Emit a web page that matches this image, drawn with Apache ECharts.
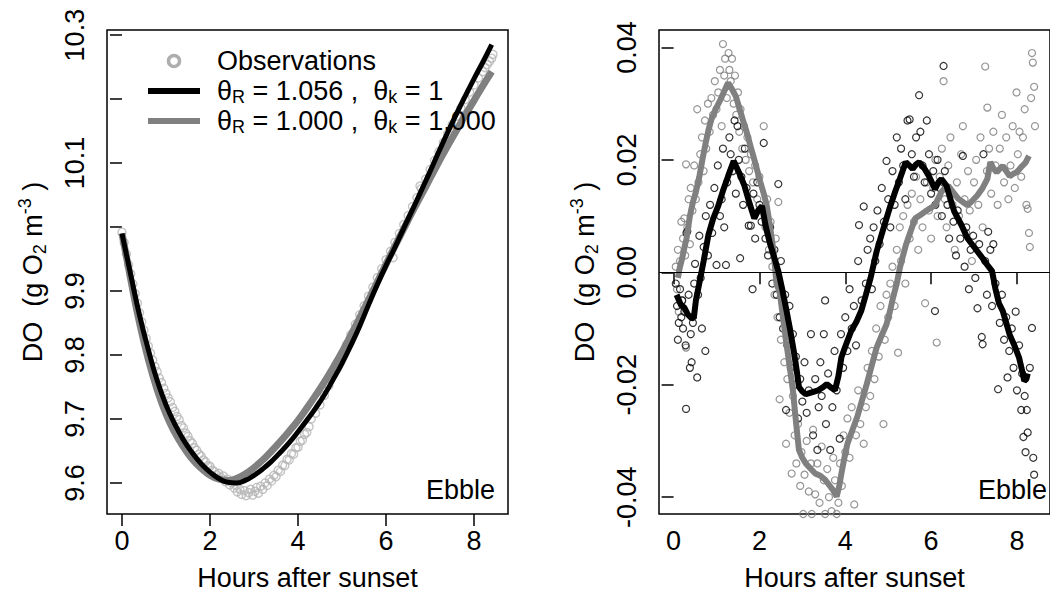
<!DOCTYPE html>
<html>
<head>
<meta charset="utf-8">
<script src="https://cdn.jsdelivr.net/npm/echarts@6.0.0/dist/echarts.min.js"></script>
<style>
html,body{margin:0;padding:0;background:#fff;}
#chart{width:1050px;height:596px;}
</style>
</head>
<body>
<div id="chart"></div>
<script>
// ---------- Data ----------
const xTicks = [0, 2, 4, 6, 8];
const leftYTicks = [9.6, 9.7, 9.8, 9.9, 10.0, 10.1, 10.2, 10.3];
const leftYLabels = [9.6, 9.7, 9.8, 9.9, 10.1, 10.3];
const rightYTicks = [-0.04, -0.02, 0, 0.02, 0.04];

const legendNames = ['Observations', 'θR = 1.056 ,  θk = 1', 'θR = 1.000 ,  θk = 1.000'];

// Left panel: observed DO (hours, g O2 m-3)
const observations = [
[0.00,9.992],[0.05,9.976],[0.10,9.958],[0.15,9.941],[0.20,9.927],[0.25,9.911],[0.30,9.896],[0.35,9.881],[0.40,9.866],[0.45,9.852],
[0.50,9.839],[0.55,9.826],[0.60,9.814],[0.65,9.803],[0.70,9.792],[0.75,9.782],[0.80,9.774],[0.85,9.764],[0.90,9.757],[0.95,9.748],
[1.00,9.740],[1.05,9.733],[1.10,9.727],[1.15,9.718],[1.20,9.712],[1.25,9.704],[1.30,9.699],[1.35,9.690],[1.40,9.686],[1.45,9.678],
[1.50,9.673],[1.55,9.666],[1.60,9.662],[1.65,9.655],[1.70,9.651],[1.75,9.645],[1.80,9.642],[1.85,9.636],[1.90,9.633],[1.95,9.627],
[2.00,9.626],[2.05,9.620],[2.10,9.618],[2.15,9.613],[2.20,9.615],[2.25,9.608],[2.30,9.611],[2.35,9.602],[2.40,9.606],[2.45,9.597],
[2.50,9.600],[2.55,9.592],[2.60,9.596],[2.62,9.586],[2.68,9.590],[2.72,9.582],[2.78,9.588],[2.82,9.580],[2.88,9.585],[2.92,9.590],
[2.97,9.581],[3.02,9.587],[3.06,9.593],[3.10,9.584],[3.15,9.595],[3.20,9.590],[3.25,9.600],[3.30,9.596],[3.35,9.606],[3.40,9.603],
[3.45,9.612],[3.50,9.610],[3.55,9.620],[3.60,9.618],[3.65,9.628],[3.70,9.627],[3.75,9.637],[3.80,9.636],[3.85,9.646],[3.90,9.645],
[3.95,9.655],[4.00,9.656],[4.05,9.665],[4.10,9.667],[4.15,9.676],[4.20,9.679],[4.25,9.688],[4.30,9.700],[4.40,9.709],[4.50,9.722],
[4.60,9.737],[4.70,9.752],[4.80,9.770],[4.90,9.786],[5.00,9.801],[5.10,9.816],[5.20,9.832],[5.30,9.848],[5.40,9.863],[5.50,9.877],
[5.60,9.892],[5.70,9.906],[5.80,9.921],[5.90,9.935],[6.00,9.949],[6.10,9.962],[6.16,9.952],[6.20,9.976],[6.30,9.990],[6.40,10.004],
[6.50,10.018],[6.60,10.032],[6.70,10.046],[6.77,10.064],[6.80,10.060],[6.90,10.075],[7.00,10.090],[7.10,10.104],[7.20,10.118],[7.30,10.132],
[7.40,10.146],[7.50,10.160],[7.60,10.173],[7.70,10.186],[7.80,10.199],[7.90,10.211],[8.00,10.222],[8.10,10.233],[8.20,10.243],[8.25,10.249],
[8.30,10.254],[8.35,10.259],[8.40,10.264],[8.43,10.270]
];

// Left panel: model with thetaR = 1.056, thetak = 1 (black)
const modelBlack = [
[0.0,9.990],[0.2,9.925],[0.4,9.862],[0.6,9.808],[0.8,9.760],[1.0,9.722],[1.2,9.692],[1.4,9.667],[1.6,9.647],[1.8,9.630],
[2.0,9.617],[2.2,9.607],[2.4,9.601],[2.6,9.600],[2.8,9.604],[3.0,9.612],[3.2,9.622],[3.4,9.634],[3.6,9.648],[3.8,9.663],
[4.0,9.680],[4.2,9.698],[4.4,9.717],[4.6,9.738],[4.8,9.762],[5.0,9.787],[5.2,9.815],[5.4,9.845],[5.6,9.878],[5.8,9.910],
[6.0,9.940],[6.2,9.968],[6.4,9.998],[6.6,10.027],[6.8,10.057],[7.0,10.087],[7.2,10.118],[7.4,10.148],[7.6,10.177],[7.8,10.205],
[8.0,10.232],[8.2,10.258],[8.4,10.285]
];

// Left panel: model with thetaR = 1.000, thetak = 1.000 (grey)
const modelGrey = [
[0.0,9.990],[0.2,9.918],[0.4,9.850],[0.6,9.793],[0.8,9.746],[1.0,9.708],[1.2,9.679],[1.4,9.656],[1.6,9.637],[1.8,9.623],
[2.0,9.612],[2.2,9.606],[2.4,9.604],[2.6,9.607],[2.8,9.614],[3.0,9.624],[3.2,9.636],[3.4,9.650],[3.6,9.665],[3.8,9.681],
[4.0,9.698],[4.2,9.717],[4.4,9.737],[4.6,9.758],[4.8,9.781],[5.0,9.805],[5.2,9.831],[5.4,9.858],[5.6,9.886],[5.8,9.914],
[6.0,9.942],[6.2,9.970],[6.4,9.997],[6.6,10.024],[6.8,10.050],[7.0,10.076],[7.2,10.102],[7.4,10.127],[7.6,10.151],[7.8,10.175],
[8.0,10.198],[8.2,10.221],[8.4,10.243]
];

// Right panel: residuals, black model
const residBlack = [
[0.05,-0.002],[0.08,-0.006],[0.10,-0.012],[0.12,-0.009],[0.15,-0.003],[0.18,-0.008],[0.20,-0.005],[0.22,-0.010],[0.25,-0.007],[0.28,-0.013],
[0.29,-0.0243],[0.30,0.007],[0.32,0.0073],[0.35,-0.004],[0.38,-0.017],[0.40,-0.011],[0.42,-0.016],[0.45,-0.009],[0.48,-0.002],[0.50,0.0015],
[0.55,-0.0187],[0.57,-0.004],[0.60,0.0065],[0.63,-0.001],[0.66,-0.010],[0.70,0.0045],[0.74,-0.014],[0.75,0.010],[0.80,0.003],[0.85,0.012],
[0.90,0.007],[0.95,0.015],[1.00,0.0013],[1.03,0.019],[1.08,0.010],[1.12,0.013],[1.15,0.022],[1.18,0.008],[1.22,0.0013],[1.25,0.016],
[1.30,0.024],[1.33,0.021],[1.38,0.018],[1.42,0.027],[1.45,0.014],[1.49,0.026],[1.52,0.020],[1.55,0.0025],[1.58,0.017],[1.62,0.012],
[1.66,0.022],[1.70,0.015],[1.75,0.0083],[1.80,0.0083],[1.84,-0.003],[1.86,0.014],[1.90,0.006],[1.95,0.016],[2.00,0.012],[2.05,0.009],
[2.10,0.023],[2.14,0.006],[2.20,0.003],[2.25,0.008],[2.30,-0.002],[2.35,0.004],[2.40,-0.004],[2.44,0.0157],[2.47,-0.008],[2.50,0.002],
[2.55,-0.010],[2.60,-0.004],[2.62,-0.0245],[2.65,-0.013],[2.70,-0.006],[2.73,-0.017],[2.78,-0.011],[2.82,-0.020],[2.85,-0.015],[2.90,-0.026],
[2.95,-0.019],[3.00,-0.023],[3.05,-0.016],[3.10,-0.025],[3.15,-0.021],[3.20,-0.011],[3.25,-0.029],[3.30,-0.019],[3.35,-0.0316],[3.38,-0.024],
[3.42,-0.016],[3.45,-0.022],[3.50,-0.011],[3.53,-0.005],[3.55,-0.027],[3.60,-0.018],[3.65,-0.0316],[3.70,-0.024],[3.75,-0.014],[3.80,-0.021],
[3.87,-0.0296],[3.90,-0.011],[3.95,-0.017],[4.00,-0.008],[4.05,-0.014],[4.10,-0.003],[4.15,-0.010],[4.20,-0.006],[4.25,-0.013],[4.30,0.002],
[4.32,0.0084],[4.38,-0.005],[4.43,0.0117],[4.48,-0.002],[4.52,0.004],[4.58,0.006],[4.62,-0.003],[4.66,0.008],[4.70,0.002],[4.75,0.011],
[4.80,0.005],[4.85,0.015],[4.90,0.009],[4.96,0.0198],[5.00,0.013],[5.05,0.008],[5.10,0.018],[5.15,0.012],[5.20,0.024],[5.25,0.016],
[5.30,0.022],[5.35,0.019],[5.40,0.013],[5.45,0.027],[5.50,0.0272],[5.55,0.021],[5.60,0.017],[5.65,0.024],[5.72,0.0315],[5.75,0.025],
[5.80,0.019],[5.85,0.016],[5.90,0.027],[5.95,0.021],[6.00,0.014],[6.05,0.018],[6.09,-0.0069],[6.10,0.012],[6.15,0.020],[6.20,0.015],
[6.25,0.010],[6.29,0.0367],[6.32,0.018],[6.38,0.012],[6.42,0.006],[6.48,0.014],[6.52,0.009],[6.58,0.003],[6.62,0.011],[6.68,0.006],
[6.74,0.0207],[6.78,0.001],[6.82,0.008],[6.88,-0.003],[6.92,0.004],[6.98,0.0065],[7.03,-0.001],[7.08,-0.0064],[7.12,0.005],[7.18,-0.0115],
[7.20,-0.0128],[7.22,0.021],[7.26,0.002],[7.30,-0.004],[7.33,0.0072],[7.38,0.004],[7.42,-0.006],[7.45,0.005],[7.50,-0.002],[7.56,-0.0208],
[7.60,-0.009],[7.65,-0.004],[7.70,-0.012],[7.75,-0.008],[7.78,-0.0187],[7.82,-0.014],[7.88,-0.010],[7.92,-0.017],[7.97,-0.007],[8.00,-0.021],
[8.05,-0.013],[8.10,-0.0245],[8.12,-0.018],[8.15,-0.0293],[8.18,-0.022],[8.20,-0.032],[8.23,-0.0245],[8.25,-0.0285],[8.30,-0.017],[8.35,-0.0099],
[8.38,-0.033],[8.40,-0.036]
];

// Right panel: residuals, grey model
const residGrey = [
[0.05,0.001],[0.08,-0.003],[0.10,0.004],[0.12,-0.007],[0.15,0.002],[0.18,0.009],[0.20,-0.005],[0.22,0.006],[0.25,0.0096],[0.27,0.003],
[0.29,0.0192],[0.29,-0.0134],[0.32,0.008],[0.35,0.013],[0.38,0.005],[0.40,0.015],[0.44,0.011],[0.48,0.019],[0.52,0.013],[0.55,0.029],
[0.58,0.016],[0.62,0.021],[0.66,0.024],[0.70,0.018],[0.73,0.027],[0.76,0.022],[0.80,0.030],[0.84,0.025],[0.88,0.031],[0.92,0.028],
[0.96,0.034],[1.00,0.029],[1.04,0.032],[1.08,0.036],[1.12,0.026],[1.15,0.0406],[1.18,0.035],[1.20,0.038],[1.24,0.031],[1.28,0.039],
[1.30,0.036],[1.33,0.034],[1.36,0.038],[1.40,0.030],[1.43,0.035],[1.46,0.028],[1.50,0.032],[1.53,0.025],[1.56,0.029],[1.60,0.022],
[1.64,0.026],[1.68,0.020],[1.72,0.024],[1.76,0.018],[1.80,0.021],[1.85,0.016],[1.90,0.019],[1.95,0.013],[2.00,0.017],[2.05,0.011],
[2.10,0.026],[2.14,0.008],[2.18,0.013],[2.22,0.004],[2.26,0.009],[2.30,0.001],[2.35,-0.004],[2.38,0.006],[2.42,-0.008],[2.44,0.0125],
[2.47,-0.0226],[2.50,-0.012],[2.55,-0.006],[2.58,-0.016],[2.62,-0.0305],[2.65,-0.019],[2.70,-0.025],[2.75,-0.0358],[2.78,-0.022],[2.82,-0.029],
[2.86,-0.034],[2.90,-0.027],[2.95,-0.038],[2.98,-0.032],[3.02,-0.043],[3.05,-0.036],[3.10,-0.030],[3.15,-0.039],[3.20,-0.034],[3.22,-0.043],
[3.25,-0.028],[3.30,-0.0395],[3.35,-0.034],[3.40,-0.041],[3.45,-0.031],[3.50,-0.037],[3.53,-0.043],[3.58,-0.035],[3.62,-0.040],[3.68,-0.0425],
[3.72,-0.033],[3.76,-0.037],[3.80,-0.043],[3.84,-0.041],[3.88,-0.034],[3.92,-0.038],[3.96,-0.029],[4.00,-0.032],[4.05,-0.026],[4.10,-0.033],
[4.15,-0.024],[4.21,-0.0413],[4.25,-0.029],[4.30,-0.021],[4.35,-0.027],[4.43,-0.0305],[4.48,-0.024],[4.52,-0.017],[4.58,-0.022],[4.62,-0.014],
[4.68,-0.019],[4.72,-0.010],[4.78,-0.015],[4.82,-0.006],[4.89,-0.027],[4.92,-0.012],[4.96,-0.004],[5.00,-0.008],[5.05,-0.002],[5.10,0.001],
[5.15,-0.006],[5.20,0.004],[5.23,-0.0143],[5.27,0.008],[5.30,0.002],[5.35,0.010],[5.40,-0.002],[5.45,0.012],[5.50,0.006],[5.55,0.014],
[5.60,0.009],[5.65,0.017],[5.70,0.004],[5.75,0.013],[5.80,0.008],[5.86,-0.0055],[5.90,0.016],[5.95,0.011],[6.00,0.006],[6.05,0.015],
[6.10,0.020],[6.13,-0.0125],[6.15,0.010],[6.20,0.017],[6.25,0.022],[6.29,0.034],[6.32,0.013],[6.36,0.008],[6.40,0.019],[6.45,0.024],
[6.50,0.012],[6.55,0.004],[6.60,0.016],[6.65,0.010],[6.70,0.021],[6.74,0.026],[6.78,0.013],[6.82,0.007],[6.86,0.018],[6.90,0.011],
[6.95,0.002],[7.00,0.016],[7.05,0.020],[7.10,0.012],[7.15,0.024],[7.20,0.008],[7.26,0.0366],[7.30,0.018],[7.31,0.0293],[7.35,0.022],
[7.40,0.014],[7.45,0.025],[7.50,0.019],[7.55,0.012],[7.60,0.022],[7.65,0.028],[7.70,0.016],[7.75,0.024],[7.80,0.013],[7.85,0.019],
[7.90,0.026],[7.95,0.015],[7.99,0.032],[8.02,0.021],[8.06,0.025],[8.10,0.017],[8.14,0.024],[8.18,0.029],[8.22,0.012],[8.25,0.0113],
[8.28,0.007],[8.30,0.0045],[8.33,0.031],[8.35,0.039],[8.37,0.0373],[8.40,0.033],[8.42,0.026]
];

// Right panel: running means of residuals
const runBlack = [
[0.07,-0.0040],[0.17,-0.0058],[0.25,-0.0063],[0.33,-0.0075],[0.41,-0.0081],[0.47,-0.0082],[0.52,-0.0050],[0.59,-0.0023],[0.70,0.0020],[0.81,0.0066],
[0.92,0.0095],[1.04,0.0118],[1.15,0.0145],[1.27,0.0171],[1.40,0.0198],[1.52,0.0178],[1.65,0.0154],[1.76,0.0125],[1.88,0.0096],[1.97,0.0110],
[2.06,0.0118],[2.15,0.0080],[2.25,0.0050],[2.35,0.0025],[2.44,0.0002],[2.53,-0.0030],[2.62,-0.0064],[2.71,-0.0100],[2.80,-0.0140],[2.87,-0.0175],
[2.92,-0.0204],[3.00,-0.0212],[3.08,-0.0217],[3.20,-0.0214],[3.37,-0.0210],[3.47,-0.0205],[3.57,-0.0199],[3.67,-0.0205],[3.76,-0.0210],[3.84,-0.0185],
[3.91,-0.0151],[4.02,-0.0128],[4.14,-0.0104],[4.26,-0.0088],[4.37,-0.0069],[4.48,-0.0040],[4.59,-0.0010],[4.73,0.0037],[4.89,0.0078],[5.05,0.0118],
[5.17,0.0145],[5.27,0.0166],[5.41,0.0196],[5.49,0.0190],[5.57,0.0184],[5.65,0.0192],[5.72,0.0196],[5.84,0.0185],[5.95,0.0171],[6.09,0.0148],
[6.17,0.0160],[6.24,0.0166],[6.36,0.0154],[6.45,0.0130],[6.54,0.0108],[6.70,0.0085],[6.85,0.0060],[6.97,0.0048],[7.08,0.0037],[7.20,0.0025],
[7.31,0.0013],[7.42,0.0002],[7.50,-0.0030],[7.58,-0.0055],[7.67,-0.0069],[7.75,-0.0090],[7.83,-0.0111],[7.94,-0.0130],[8.05,-0.0152],[8.12,-0.0175],
[8.17,-0.0193],[8.22,-0.0190],[8.25,-0.0180]
];
const runGrey = [
[0.10,-0.0010],[0.14,0.0007],[0.20,0.0025],[0.25,0.0043],[0.30,0.0060],[0.38,0.0100],[0.45,0.0125],[0.52,0.0143],[0.60,0.0170],[0.67,0.0200],
[0.75,0.0231],[0.81,0.0252],[0.88,0.0272],[0.98,0.0290],[1.09,0.0307],[1.18,0.0322],[1.27,0.0337],[1.36,0.0326],[1.45,0.0313],[1.53,0.0293],
[1.61,0.0272],[1.70,0.0250],[1.79,0.0225],[1.90,0.0195],[2.02,0.0161],[2.10,0.0140],[2.17,0.0119],[2.25,0.0080],[2.33,0.0037],[2.40,-0.0022],
[2.47,-0.0034],[2.55,-0.0080],[2.62,-0.0122],[2.70,-0.0165],[2.78,-0.0210],[2.85,-0.0265],[2.92,-0.0316],[3.00,-0.0330],[3.08,-0.0340],[3.20,-0.0350],
[3.30,-0.0358],[3.42,-0.0362],[3.53,-0.0369],[3.62,-0.0378],[3.71,-0.0387],[3.80,-0.0399],[3.86,-0.0380],[3.91,-0.0358],[3.98,-0.0330],[4.05,-0.0305],
[4.16,-0.0282],[4.28,-0.0257],[4.39,-0.0228],[4.50,-0.0199],[4.62,-0.0165],[4.73,-0.0134],[4.85,-0.0112],[4.96,-0.0093],[5.04,-0.0070],[5.11,-0.0046],
[5.20,-0.0020],[5.27,0.0007],[5.34,0.0028],[5.41,0.0048],[5.52,0.0072],[5.63,0.0096],[5.75,0.0102],[5.86,0.0108],[5.98,0.0114],[6.09,0.0119],
[6.17,0.0132],[6.24,0.0143],[6.32,0.0150],[6.40,0.0154],[6.52,0.0142],[6.63,0.0131],[6.74,0.0125],[6.85,0.0119],[6.97,0.0128],[7.08,0.0137],
[7.20,0.0150],[7.31,0.0166],[7.38,0.0196],[7.45,0.0185],[7.53,0.0178],[7.60,0.0184],[7.67,0.0189],[7.75,0.0180],[7.83,0.0171],[7.91,0.0175],
[7.99,0.0178],[8.05,0.0183],[8.12,0.0189],[8.20,0.0195],[8.28,0.0207]
];

// ---------- Chart ----------
const FONT = "'Liberation Sans', Arial, Helvetica, sans-serif";
const FS = 27;
const chart = echarts.init(document.getElementById('chart'), null, {renderer: 'svg'});

const nameRich = {
  sub: {fontSize: 18, lineHeight: 18, verticalAlign: 'bottom', fontFamily: FONT, color: '#000'},
  sup: {fontSize: 18, lineHeight: 18, verticalAlign: 'top', fontFamily: FONT, color: '#000'}
};
const yName = 'DO  (g O{sub|2} m{sup|-3} )';

function xAxisCfg(gi) {
  return {
    type: 'value', gridIndex: gi, min: -0.34, max: 8.77,
    name: 'Hours after sunset', nameLocation: 'middle', nameGap: 50,
    nameTextStyle: {fontSize: FS, fontFamily: FONT, color: '#000'},
    axisLine: {show: false},
    axisTick: {show: true, length: 12, customValues: xTicks, lineStyle: {color: '#000', width: 1.5}},
    axisLabel: {customValues: xTicks, fontSize: FS, fontFamily: FONT, color: '#000', margin: 13},
    splitLine: {show: false}
  };
}
function yAxisCfg(gi, min, max, ticks, labels, digits) {
  return {
    type: 'value', gridIndex: gi, min: min, max: max,
    name: yName, nameLocation: 'middle', nameGap: 58, nameRotate: 90,
    nameTextStyle: {fontSize: FS, fontFamily: FONT, color: '#000', lineHeight: 33, rich: nameRich},
    axisLine: {show: false},
    axisTick: {show: true, length: 12, customValues: ticks, lineStyle: {color: '#000', width: 1.5}},
    axisLabel: {customValues: labels, rotate: 90, fontSize: FS, fontFamily: FONT, color: '#000', margin: 19,
      formatter: v => Number(v).toFixed(digits)},
    splitLine: {show: false}
  };
}

const legendRich = {
  sp: {width: 12, fontSize: FS, lineHeight: 30},
  s: {fontSize: 18, lineHeight: 18, verticalAlign: 'bottom', fontFamily: FONT, color: '#000'}
};
function legendFmt(name) {
  if (name === legendNames[0]) return '{sp| }' + name;
  const m = name.match(/θR = ([\d.]+) ,  θk = ([\d.]+)/);
  return '{sp| }θ{s|R} = ' + m[1] + ' ,  θ{s|k} = ' + m[2];
}

const option = {
  animation: false,
  backgroundColor: '#fff',
  grid: [
    {left: 107, top: 30, width: 401, height: 488, show: true, borderColor: '#000', borderWidth: 1.5, backgroundColor: 'transparent'},
    {left: 659, top: 30, width: 401, height: 488, show: true, borderColor: '#000', borderWidth: 1.5, backgroundColor: 'transparent'}
  ],
  xAxis: [xAxisCfg(0), xAxisCfg(1)],
  yAxis: [
    yAxisCfg(0, 9.5515, 10.308, leftYTicks, leftYLabels, 1),
    yAxisCfg(1, -0.043, 0.0431, rightYTicks, rightYTicks, 2)
  ],
  legend: {
    left: 145, top: 46, padding: 0, orient: 'vertical', itemGap: 0,
    itemWidth: 52, itemHeight: 11,
    textStyle: {fontSize: FS, fontFamily: FONT, color: '#000', lineHeight: 30, rich: legendRich},
    formatter: legendFmt,
    data: [
      {name: legendNames[0], itemStyle: {borderWidth: 3.5, borderColor: '#9a9a9a', color: 'transparent'}},
      {name: legendNames[1], itemStyle: {opacity: 0}, lineStyle: {width: 6, color: '#000'}},
      {name: legendNames[2], itemStyle: {opacity: 0}, lineStyle: {width: 6, color: '#808080'}}
    ],
    selectedMode: false
  },
  graphic: [
    {type: 'text', right: 555, top: 476, style: {text: 'Ebble', font: FS + 'px ' + FONT, fill: '#000'}},
    {type: 'text', right: 3, top: 476, style: {text: 'Ebble', font: FS + 'px ' + FONT, fill: '#000'}}
  ],
  series: [
    {name: legendNames[0], type: 'scatter', xAxisIndex: 0, yAxisIndex: 0, data: observations,
      symbol: 'circle', symbolSize: 8,
      itemStyle: {color: 'transparent', borderColor: '#b5b5b5', borderWidth: 1.4}},
    {name: legendNames[2], type: 'line', xAxisIndex: 0, yAxisIndex: 0, data: modelGrey,
      symbol: 'none', smooth: true, lineStyle: {color: '#808080', width: 7}, itemStyle: {color: '#808080'}},
    {name: legendNames[1], type: 'line', xAxisIndex: 0, yAxisIndex: 0, data: modelBlack,
      symbol: 'none', smooth: true, lineStyle: {color: '#000', width: 5}, itemStyle: {color: '#000'}},

    {name: 'resid grey', type: 'scatter', xAxisIndex: 1, yAxisIndex: 1, data: residGrey,
      symbol: 'circle', symbolSize: 7,
      itemStyle: {color: 'transparent', borderColor: '#7a7a7a', borderWidth: 1.2}},
    {name: 'resid black', type: 'scatter', xAxisIndex: 1, yAxisIndex: 1, data: residBlack,
      symbol: 'circle', symbolSize: 7,
      itemStyle: {color: 'transparent', borderColor: '#000', borderWidth: 1.2},
      markLine: {silent: true, symbol: 'none', label: {show: false},
        lineStyle: {color: '#000', width: 1.2, type: 'solid'}, data: [{yAxis: 0}]}},
    {name: 'run grey', type: 'line', xAxisIndex: 1, yAxisIndex: 1, data: runGrey,
      symbol: 'none', lineStyle: {color: '#808080', width: 6}},
    {name: 'run black', type: 'line', xAxisIndex: 1, yAxisIndex: 1, data: runBlack,
      symbol: 'none', lineStyle: {color: '#000', width: 6}}
  ]
};
chart.setOption(option);
</script>
</body>
</html>
